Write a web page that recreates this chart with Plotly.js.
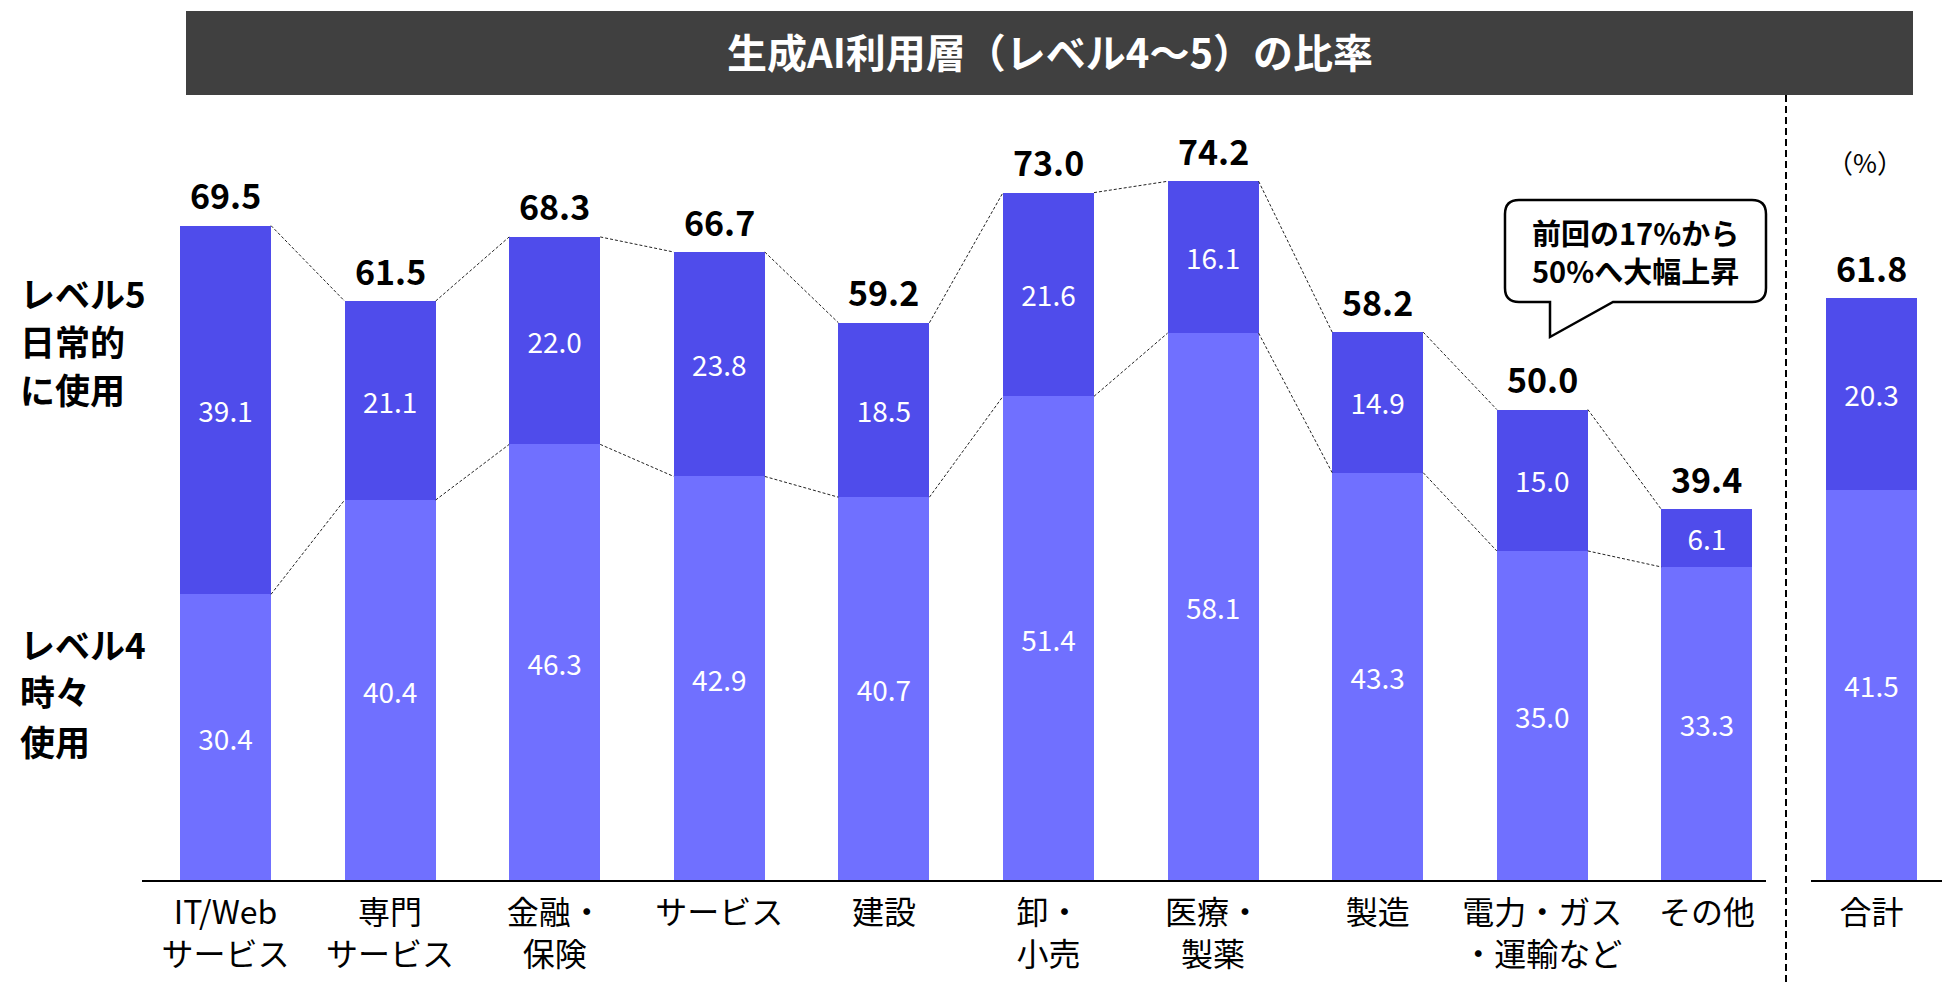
<!DOCTYPE html>
<html>
<head>
<meta charset="utf-8">
<script src="https://cdn.plot.ly/plotly-3.0.1.min.js"></script>
<style>
  html, body { margin: 0; padding: 0; background: #ffffff; }
  #chart { width: 1942px; height: 984px; }
</style>
</head>
<body>
<div id="chart"></div>
<script>
// ---- data ----
const categories = [
  "IT/Web<br>サービス", "専門<br>サービス", "金融・<br>保険", "サービス", "建設",
  "卸・<br>小売", "医療・<br>製薬", "製造", "電力・ガス<br>・運輸など", "その他", "合計"
];
const level4 = [30.4, 40.4, 46.3, 42.9, 40.7, 51.4, 58.1, 43.3, 35.0, 33.3, 41.5];
const level5 = [39.1, 21.1, 22.0, 23.8, 18.5, 21.6, 16.1, 14.9, 15.0, 6.1, 20.3];
const totals = [69.5, 61.5, 68.3, 66.7, 59.2, 73.0, 74.2, 58.2, 50.0, 39.4, 61.8];
const connectedCount = 10; // industries joined by dashed connector lines (合計 excluded)

const titleText = "生成AI利用層（レベル4〜5）の比率";
const level5Lines = ["レベル5", "日常的", "に使用"];
const level4Lines = ["レベル4", "時々", "使用"];
const calloutLines = ["前回の17%から", "50%へ大幅上昇"];
const unitText = "（%）";

// ---- styling / layout ----
const FONT = "Noto Sans CJK JP, Noto Sans, sans-serif";
const W = 1942, H = 984;
const MB = 103;              // bottom margin
const PH = H - MB;           // plot height in px
const BAR_W = 0.553;
const COLOR_L4 = "#7070FF";
const COLOR_L5 = "#4F4CEB";

const xIdx = categories.map((_, i) => i);
const xRange = [-225.5 / 164.6, (W - 225.5) / 164.6];
const yMax = PH / 9.43;

// pixel -> paper helpers (margins l=r=t=0)
const px = p => p / W;
const py = p => (PH - p) / PH;

// connector lines
const conX5 = [], conY5 = [], conX4 = [], conY4 = [];
for (let i = 0; i < connectedCount - 1; i++) {
  conX5.push(i + BAR_W / 2, i + 1 - BAR_W / 2, null);
  conY5.push(totals[i], totals[i + 1], null);
  conX4.push(i + BAR_W / 2, i + 1 - BAR_W / 2, null);
  conY4.push(level4[i], level4[i + 1], null);
}

const traces = [
  {
    type: "bar", x: xIdx, y: level4, width: BAR_W, name: "レベル4",
    marker: { color: COLOR_L4, line: { width: 0 } },
    text: level4.map(v => v.toFixed(1)), textposition: "inside", insidetextanchor: "middle",
    textfont: { family: FONT, size: 28, color: "#ffffff" }, constraintext: "none",
    hoverinfo: "skip"
  },
  {
    type: "bar", x: xIdx, y: level5, width: BAR_W, name: "レベル5",
    marker: { color: COLOR_L5, line: { width: 0 } },
    text: level5.map(v => v.toFixed(1)), textposition: "inside", insidetextanchor: "middle",
    textfont: { family: FONT, size: 28, color: "#ffffff" }, constraintext: "none",
    hoverinfo: "skip"
  },
  {
    type: "scatter", mode: "lines", x: conX5, y: conY5, connectgaps: false,
    line: { color: "#222222", width: 1, dash: "3px,2px" }, hoverinfo: "skip"
  },
  {
    type: "scatter", mode: "lines", x: conX4, y: conY4, connectgaps: false,
    line: { color: "#222222", width: 1, dash: "3px,2px" }, hoverinfo: "skip"
  }
];

const annotations = totals.map((t, i) => ({
  x: i, y: t, xref: "x", yref: "y", text: "<b>" + t.toFixed(1) + "</b>",
  showarrow: false, yanchor: "middle", yshift: 31,
  font: { family: FONT, size: 34, color: "#000000" }
}));

const sideLabel = (txt, yPix) => ({
  x: px(18), y: py(yPix), xref: "paper", yref: "paper", text: "<b>" + txt + "</b>",
  showarrow: false, xanchor: "left", yanchor: "middle", align: "left",
  font: { family: FONT, size: 35, color: "#000000" }
});
const l5Y = [292, 340, 388];
const l4Y = [643, 690, 740];
level5Lines.forEach((t, i) => annotations.push(sideLabel(t, l5Y[i])));
level4Lines.forEach((t, i) => annotations.push(sideLabel(t, l4Y[i])));

const calloutY = [232, 270];
calloutLines.forEach((t, i) => annotations.push({
  x: px(1635), y: py(calloutY[i]), xref: "paper", yref: "paper", text: "<b>" + t + "</b>",
  showarrow: false, xanchor: "center", yanchor: "middle", align: "center",
  font: { family: FONT, size: 29, color: "#000000" }
}));

annotations.push(
  { x: px(1049.5), y: py(51), xref: "paper", yref: "paper", text: "<b>" + titleText + "</b>",
    showarrow: false, xanchor: "center", yanchor: "middle",
    font: { family: FONT, size: 40, color: "#ffffff" } },
  { x: px(1865), y: py(161), xref: "paper", yref: "paper", text: unitText,
    showarrow: false, xanchor: "center", yanchor: "middle",
    font: { family: FONT, size: 26, color: "#000000" } }
);

// speech bubble path
const P = (x, y) => px(x).toFixed(5) + "," + py(y).toFixed(5);
const bubble = "M" + P(1519, 200) + " L" + P(1752, 200) + " Q" + P(1766, 200) + " " + P(1766, 214) +
  " L" + P(1766, 288) + " Q" + P(1766, 302) + " " + P(1752, 302) +
  " L" + P(1613, 302) + " L" + P(1550, 337) + " L" + P(1550, 302) +
  " L" + P(1519, 302) + " Q" + P(1505, 302) + " " + P(1505, 288) +
  " L" + P(1505, 214) + " Q" + P(1505, 200) + " " + P(1519, 200) + " Z";

const shapes = [
  { type: "rect", xref: "paper", yref: "paper", x0: px(186), x1: px(1913), y0: py(11), y1: py(95),
    fillcolor: "#404040", line: { width: 0 }, layer: "below" },
  { type: "line", xref: "paper", yref: "paper", x0: px(1786), x1: px(1786), y0: py(95), y1: py(984),
    line: { color: "#000000", width: 2, dash: "7px,4px" } },
  { type: "line", xref: "paper", yref: "paper", x0: px(142), x1: px(1766), y0: py(881), y1: py(881),
    line: { color: "#000000", width: 2 } },
  { type: "line", xref: "paper", yref: "paper", x0: px(1811), x1: px(1942), y0: py(881), y1: py(881),
    line: { color: "#000000", width: 2 } },
  { type: "path", xref: "paper", yref: "paper", path: bubble,
    fillcolor: "#ffffff", line: { color: "#000000", width: 2.5 } }
];

const layout = {
  width: W, height: H,
  margin: { l: 0, r: 0, t: 0, b: MB, pad: 0 },
  paper_bgcolor: "#ffffff", plot_bgcolor: "#ffffff",
  barmode: "stack", showlegend: false,
  font: { family: FONT, color: "#000000" },
  xaxis: {
    range: xRange, tickvals: xIdx, ticktext: categories,
    showgrid: false, zeroline: false, showline: false, ticks: "",
    ticklabelstandoff: 10,
    tickfont: { family: FONT, size: 32, color: "#000000" },
    fixedrange: true
  },
  yaxis: {
    range: [0, yMax], visible: false, showgrid: false, zeroline: false, fixedrange: true
  },
  annotations: annotations,
  shapes: shapes
};

Plotly.newPlot("chart", traces, layout, { displayModeBar: false, staticPlot: true });
</script>
</body>
</html>
